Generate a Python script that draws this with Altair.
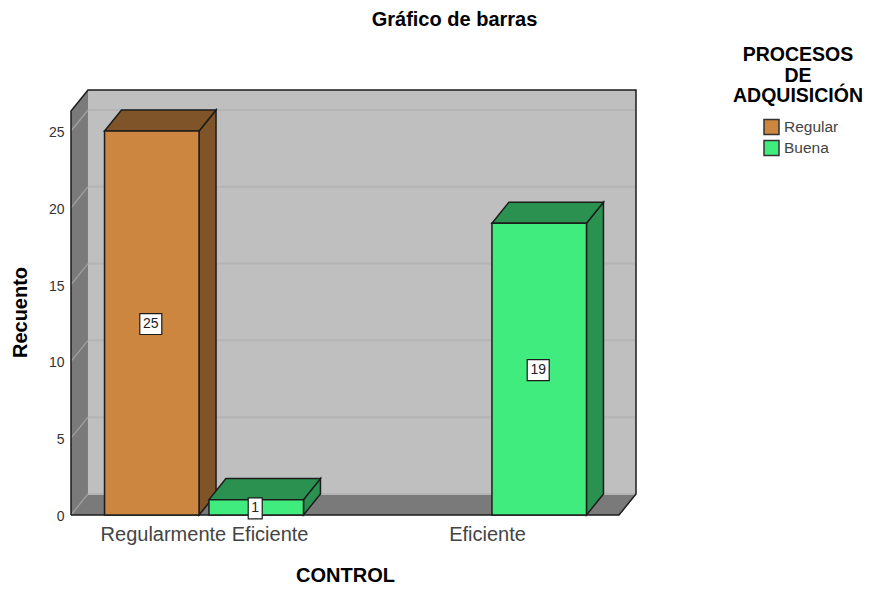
import altair as alt
import pandas as pd

categories = ["Regularmente Eficiente", "Eficiente"]
series = ["Regular", "Buena"]
regular_counts = [25, 0]
buena_counts = [1, 19]
y_ticks = [0, 5, 10, 15, 20, 25]
colors_front = ["#CC8640", "#40EC7E"]
colors_dark = ["#7F5428", "#2A9150"]

# chart geometry, in data units (1 x unit = one category step)
X_MIN, X_MAX = -0.47, 1.5265
Y_MAX = 27.67
DX, DY = 0.06, 1.37
BAR_W, GAP = 0.334, 0.035
FRONT_TOP = Y_MAX - DY
FRONT_RIGHT = X_MAX - DX
INK = "#1c1c1c"
WALL = "#BFBFBF"
SHADE = "#7A7A7A"

xs = alt.Scale(domain=[X_MIN, X_MAX], nice=False, zero=False)
ys = alt.Scale(domain=[0, Y_MAX], nice=False, zero=False)

bars = []
for c, cat in enumerate(categories):
    for s, vals in enumerate([regular_counts, buena_counts]):
        v = vals[c]
        if v == 0:
            continue
        x0 = c - GAP / 2 - BAR_W if s == 0 else c + GAP / 2
        half_w = (3 + 4 * len(str(v))) / 283
        xc = x0 + BAR_W / 2 - 1 / 283
        mid = v / 2 - 0.07
        bars.append(dict(id=f"{c}-{s}", series=series[s], v=v, mid=mid,
                         x0=x0, x1=x0 + BAR_W, xc=xc,
                         bx0=xc - half_w, bx1=xc + half_w,
                         by0=mid - 0.68, by1=mid + 0.68,
                         dark=colors_dark[s], label=str(v)))
bars_df = pd.DataFrame(bars)

faces = []
for b in bars:
    f = b["id"] + "s"
    faces += [dict(face=f, x=b["x1"], y=0, y2=b["v"], fill=b["dark"]),
              dict(face=f, x=b["x1"] + DX, y=DY, y2=b["v"] + DY, fill=b["dark"])]
    f = b["id"] + "t"
    faces += [dict(face=f, x=b["x0"], y=b["v"], y2=b["v"], fill=b["dark"]),
              dict(face=f, x=b["x0"] + DX, y=b["v"], y2=b["v"] + DY, fill=b["dark"]),
              dict(face=f, x=b["x1"], y=b["v"], y2=b["v"] + DY, fill=b["dark"]),
              dict(face=f, x=b["x1"] + DX, y=b["v"] + DY, y2=b["v"] + DY, fill=b["dark"])]
faces_df = pd.DataFrame(faces)

walls_df = pd.DataFrame([
    dict(face="side", x=X_MIN, y=0, y2=FRONT_TOP),
    dict(face="side", x=X_MIN + DX, y=DY, y2=Y_MAX),
    dict(face="floor", x=X_MIN, y=0, y2=0),
    dict(face="floor", x=X_MIN + DX, y=0, y2=DY),
    dict(face="floor", x=FRONT_RIGHT, y=0, y2=DY),
    dict(face="floor", x=X_MAX, y=DY, y2=DY),
])

outline_df = pd.DataFrame({
    "x": [X_MIN, X_MIN, X_MIN + DX, X_MAX, X_MAX, FRONT_RIGHT, X_MIN],
    "y": [0, FRONT_TOP, Y_MAX, Y_MAX, DY, 0, 0],
    "o": list(range(7)),
})

side_grid = pd.DataFrame(
    [dict(t=t, x=X_MIN, y=t) for t in y_ticks] +
    [dict(t=t, x=X_MIN + DX, y=t + DY) for t in y_ticks])
back_grid = pd.DataFrame([dict(x=X_MIN + DX, x2=X_MAX, y=t + DY) for t in y_ticks])

label_expr = "datum.value == 0 ? '%s' : '%s'" % tuple(categories)

AX = alt.Axis(values=[0, 1], labelExpr=label_expr, title="CONTROL", domain=False, ticks=False, grid=False,
              labelFontSize=20, labelColor="#444444", labelFont="Liberation Sans", labelPadding=9,
              labelBaseline="top", labelLimit=400, titleFontSize=20, titleFont="Liberation Sans",
              titleFontWeight="bold", titleColor="#000000", titleX=274, titleY=60, titleBaseline="middle",
              labelFlush=False)
AY = alt.Axis(values=y_ticks, title="Recuento", domain=False, ticks=False, grid=False,
              labelFontSize=14, labelColor="#333333", labelFont="Liberation Sans", labelPadding=7, labelOffset=1.5,
              titleFontSize=20, titleFont="Liberation Sans", titleFontWeight="bold", titleColor="#000000",
              titleX=-51, titleY=222, titleBaseline="middle", labelFlush=False)

X = lambda f="x": alt.X(f"{f}:Q", scale=xs, axis=AX)
Y = lambda f="y": alt.Y(f"{f}:Q", scale=ys, axis=AY)

back = alt.Chart(pd.DataFrame([dict(x=X_MIN + DX, x2=X_MAX, y=DY, y2=Y_MAX)])).mark_rect(color=WALL).encode(
    x=X(), x2="x2:Q", y=Y(), y2="y2:Q")
wall_faces = alt.Chart(walls_df).mark_area(color=SHADE, orient="vertical").encode(
    x=X(), y=Y(), y2="y2:Q", detail="face:N")
back_lines = alt.Chart(back_grid).mark_rule(color="#B4B4B4", strokeWidth=2).encode(
    x=X(), x2="x2:Q", y=Y())
side_lines = alt.Chart(side_grid).mark_line(color="#A0A0A0", strokeWidth=1.3).encode(
    x=X(), y=Y(), detail="t:N")
outline = alt.Chart(outline_df).mark_line(color=INK, strokeWidth=1.5).encode(
    x=X(), y=Y(), order="o:Q")
bar_faces = alt.Chart(faces_df).mark_area(stroke=INK, strokeWidth=1.5, orient="vertical").encode(
    x=X(), y=Y(), y2="y2:Q", detail="face:N",
    fill=alt.Fill("fill:N", scale=None))
fronts = alt.Chart(bars_df).mark_rect(stroke=INK, strokeWidth=1.5).encode(
    x=X("x0"), x2="x1:Q",
    y=Y("v"), y2=alt.Y2(datum=0),
    color=alt.Color("series:N", scale=alt.Scale(domain=series, range=colors_front), legend=alt.Legend(
        title=["PROCESOS", "DE", "ADQUISICIÓN"], orient="none", legendX=662, legendY=-44,
        titleFontSize=19.5, titleFont="Liberation Sans", titleFontWeight="bold", titleColor="#000000",
        titleAlign="center", titleAnchor="middle", titleLineHeight=20.5, titlePadding=12,
        labelFontSize=15.5, labelFont="Liberation Sans", labelColor="#444444",
        symbolType="square", symbolSize=225, symbolStrokeColor="#333333", symbolStrokeWidth=1.5,
        symbolOpacity=1, symbolOffset=5, labelOffset=4, rowPadding=0)))
boxes = alt.Chart(bars_df).mark_rect(fill="white", stroke=INK, strokeWidth=1.2).encode(
    x=X("bx0"), x2="bx1:Q", y=Y("by0"), y2="by1:Q")
texts = alt.Chart(bars_df).mark_text(fontSize=14, font="Liberation Sans", color="#222222").encode(
    x=X("xc"), y=Y("mid"), text="label:N")

chart = alt.layer(back, wall_faces, back_lines, side_lines, outline, bar_faces, fronts, boxes, texts).properties(
    width=565, height=425,
    title=alt.Title("Gráfico de barras", fontSize=20, font="Liberation Sans", fontWeight="bold",
                    color="#000000", anchor="middle", dx=101, offset=16),
    padding={"left": 63, "top": 82, "right": 228, "bottom": 69},
    autosize=alt.AutoSizeParams(type="none"),
    background="white",
).configure_view(stroke=None)

chart.save("out.html", embed_options={"renderer": "svg", "actions": False})
